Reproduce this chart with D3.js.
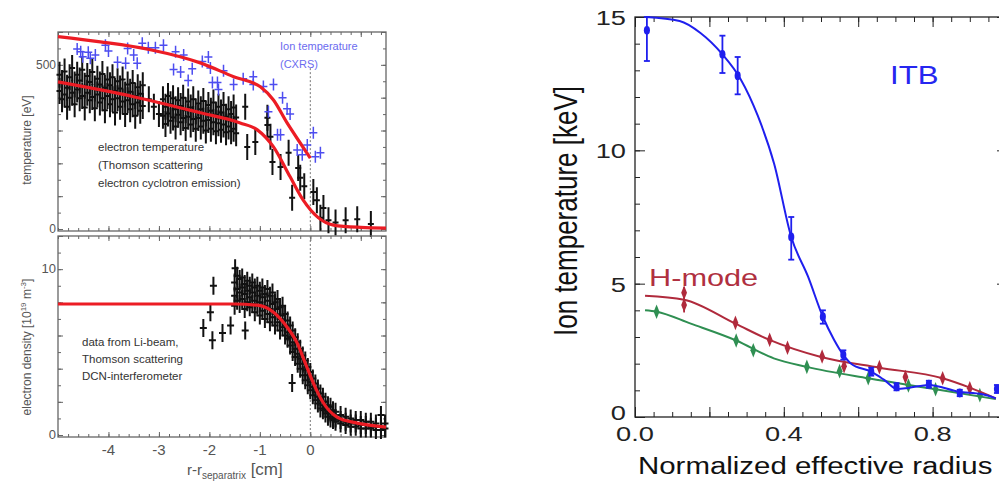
<!DOCTYPE html>
<html>
<head>
<meta charset="utf-8">
<script src="https://cdn.jsdelivr.net/npm/d3@7"></script>
<style>
body{margin:0;background:#fff;}
svg{display:block;font-family:"Liberation Sans",Arial,sans-serif;}
</style>
</head>
<body>
<svg id="chart" width="999" height="481"></svg>
<script>
// ---------- left panels: edge profiles vs r - r_separatrix [cm] ----------
// ion temperature (CXRS), [x cm, T eV]
var tiData = [[-4.62,548],[-4.55,540],[-4.51,525],[-4.40,538],[-4.36,520],[-4.26,530],[-4.06,560],[-4.00,542],
  [-3.82,508],[-3.66,505],[-3.62,550],[-3.50,530],[-3.43,505],[-3.33,566],[-3.21,552],[-3.07,552],[-2.91,560],
  [-2.71,486],[-2.67,540],[-2.57,478],[-2.51,530],[-2.42,452],[-2.34,488],[-2.14,510],[-2.02,524],[-1.98,490],
  [-1.94,446],[-1.84,446],[-1.82,425],[-1.72,482],[-1.52,440],[-1.33,458],[-1.13,464],[-1.13,440],[-0.93,434],
  [-0.83,357],[-0.73,440],[-0.65,287],[-0.59,287],[-0.55,400],[-0.46,366],[-0.40,350],[-0.26,241],[-0.16,226],
  [-0.06,256],[0.06,293],[0.10,220],[0.20,232]];
// electron temperature (Thomson / ECE), rows [x, T values...]
var teRows = [[-4.97,470,420],[-4.92,445,395],[-4.87,480,410],[-4.82,430,372],[-4.77,462,400],[-4.72,490,415],
  [-4.67,440,380],[-4.62,470,425],[-4.57,452,398],[-4.52,485,405],[-4.47,436,370],[-4.42,466,415],[-4.37,448,392],
  [-4.32,478,402],[-4.27,428,368],[-4.22,458,410],[-4.17,440,385],[-4.12,472,398],[-4.07,430,362],[-4.02,455,405],
  [-3.97,438,380],[-3.92,462,395],[-3.87,420,355],[-3.82,450,398],[-3.77,428,372],[-3.72,455,388],[-3.67,410,350],
  [-3.62,440,392],[-3.57,418,365],[-3.52,445,380],[-3.47,405,345],[-3.42,432,385],[-3.37,412,360],[-3.32,438,375],
  [-3.20,395],[-3.10,372],[-3.00,350],
  [-2.92,395,345],[-2.87,372,320],[-2.82,405,352],[-2.77,380,330],[-2.72,398,340],[-2.67,365,312],[-2.62,392,348],
  [-2.57,375,325],[-2.52,400,338],[-2.47,362,308],[-2.42,388,342],[-2.37,370,318],[-2.32,395,335],[-2.27,358,305],
  [-2.22,382,338],[-2.17,365,312],[-2.12,390,330],[-2.07,352,300],[-2.02,378,332],[-1.97,360,305],[-1.92,385,325],
  [-1.87,348,298],[-1.82,372,322],[-1.77,355,302],[-1.72,378,318],[-1.67,342,295],[-1.62,365,312],[-1.57,350,298],
  [-1.52,370,305],[-1.47,340,292],
  [-1.29,372],[-1.25,250],[-1.09,265],[-0.85,339,317],[-0.79,281],[-0.75,204],[-0.59,189],[-0.43,232],[-0.36,95],
  [-0.24,186],[-0.20,156],[-0.12,130],[0.06,113],[0.13,88],[0.20,34],[0.26,64],[0.36,27],[0.50,20],[0.70,27],
  [0.93,30],[1.20,15]];
// electron density, rows [x, n values...] (10^19 m^-3)
var neRows = [[-2.12,6.45],[-1.98,7.4],[-1.94,5.72],[-1.92,9.0],[-1.74,6.15],[-1.58,6.6],[-1.49,10.06],[-1.29,6.3],[-0.36,3.13],
  [-1.50,9.2,8.4,7.8],[-1.45,8.8,9.6,8.1],[-1.40,9.4,8.6,7.9],[-1.35,8.9,8.2,9.5],[-1.30,9.1,8.5,7.6],
  [-1.25,8.7,9.3,8.0],[-1.20,9.0,8.3,7.7],[-1.15,8.6,9.2,7.9],[-1.10,8.9,8.1,7.4],[-1.05,8.4,9.0,7.8],
  [-1.00,8.7,8.0,7.2],[-0.95,8.3,8.9,7.5],[-0.90,8.5,7.8,7.0],[-0.85,8.1,8.8,7.3],[-0.80,8.4,7.6,6.8],
  [-0.75,7.9,8.6,7.1],[-0.70,8.0,7.3,6.6],[-0.65,7.6,8.2,6.8],[-0.60,7.7,7.0,6.3],[-0.55,7.2,7.8,6.5],
  [-0.50,7.3,6.6,6.0],[-0.45,6.9,6.2,5.8],[-0.40,6.6,5.9,5.4],[-0.35,6.3,5.6,5.0],[-0.30,5.9,5.2,4.7],
  [-0.25,5.6,4.9,4.3],[-0.20,5.2,4.6,4.0],[-0.15,4.8,4.3,3.6],[-0.10,4.5,3.9,3.3],[-0.05,4.1,3.6,3.0],
  [0.00,3.8,3.2,2.7],[0.05,3.4,2.9,2.4],[0.10,3.1,2.6,2.1],[0.15,2.8,2.3,1.9],[0.20,2.5,2.1,1.6],
  [0.25,2.3,1.8,1.5],[0.30,2.0,1.6,1.3],[0.35,1.8,1.4,1.1],[0.40,1.7,1.3,1.0],[0.45,1.5,1.1,0.9],
  [0.50,1.4,1.0,0.8],[0.60,1.2,0.9,0.7],[0.70,1.1,0.8,0.6],[0.80,1.0,0.7,0.5],[0.90,0.9,0.7,0.5],
  [1.00,0.9,0.6,0.4],[1.10,0.8,0.6,0.4],[1.20,0.8,0.5,0.4],[1.30,0.7,0.5,0.3],[1.40,1.2,0.5,0.3],[1.48,0.7,0.4]];
// fitted profiles (red)
var tiFitX = [-5, -4.16, -3.17, -2.18, -1.52, -0.99, -0.73, -0.46, -0.2, 0];
var tiFitY = [586, 570, 546, 506, 464, 433, 393, 323, 262, 216];
var teFitX = [-5, -3.5, -2.18, -1.39, -1.05, -0.73, -0.4, -0.14, 0.14, 0.46, 1.0, 1.5];
var teFitY = [448, 403, 354, 323, 302, 250, 159, 88, 37, 12, 5, 3];
var neFitX = [-5, -1.5, -1.05, -0.73, -0.46, -0.26, -0.1, 0.06, 0.26, 0.53, 0.93, 1.5];
var neFitY = [7.9, 7.9, 7.83, 7.4, 6.5, 5.54, 4.34, 3.13, 1.93, 1.08, 0.72, 0.48];
var leftXTicks = [-4, -3, -2, -1, 0];

// ---------- right panel: ion temperature vs normalized radius ----------
var itbX  = [0.032, 0.235, 0.276, 0.42, 0.505, 0.56, 0.635, 0.703, 0.79, 0.873, 0.973];
var itbY  = [14.5, 13.6, 12.8, 6.75, 3.76, 2.33, 1.7, 1.13, 1.23, 0.9, 1.05];
var itbLo = [13.35, 12.9, 12.1, 5.9, 3.5, 2.15, 1.55, 1.0, 1.1, 0.78, 0.9];
var itbHi = [15.0, 14.3, 13.5, 7.5, 4.0, 2.5, 1.85, 1.27, 1.36, 1.02, 1.2];
var itbFitX = [0.03, 0.12, 0.176, 0.235, 0.284, 0.33, 0.374, 0.42, 0.465, 0.505, 0.535, 0.56, 0.581, 0.635, 0.67, 0.705, 0.735, 0.79, 0.87, 0.932, 0.97];
var itbFitY = [15.0, 14.85, 14.4, 13.6, 12.67, 11.3, 9.5, 6.75, 5.27, 3.76, 2.9, 2.33, 2.0, 1.7, 1.39, 1.05, 1.09, 1.2, 0.95, 0.86, 0.7];
var hmX   = [0.132, 0.132, 0.27, 0.362, 0.41, 0.503, 0.562, 0.657, 0.727, 0.827, 0.9];
var hmY   = [4.66, 4.2, 3.53, 2.9, 2.6, 2.27, 1.9, 1.87, 1.5, 1.45, 1.08];
var hmErr = [0.22, 0.28, 0.15, 0.15, 0.14, 0.14, 0.14, 0.14, 0.14, 0.14, 0.12];
var hmFitX = [0.027, 0.132, 0.27, 0.36, 0.5, 0.657, 0.827, 0.9, 0.97];
var hmFitY = [4.55, 4.4, 3.5, 2.9, 2.25, 1.85, 1.45, 1.1, 0.7];
var lmX   = [0.058, 0.272, 0.318, 0.462, 0.55, 0.627, 0.735, 0.808, 0.927];
var lmY   = [3.95, 2.87, 2.5, 1.88, 1.72, 1.45, 1.18, 1.04, 0.82];
var lmErr = [0.15, 0.14, 0.13, 0.12, 0.12, 0.12, 0.12, 0.12, 0.12];
var lmFitX = [0.027, 0.058, 0.15, 0.272, 0.373, 0.462, 0.627, 0.808, 0.97];
var lmFitY = [4.0, 3.95, 3.5, 2.87, 2.2, 1.88, 1.45, 1.04, 0.67];

var svg = d3.select('#chart');
var fitLine = function(x, y){
    return d3.line().curve(d3.curveMonotoneX).x(function(d){ return x(d[0]); }).y(function(d){ return y(d[1]); });
};
var zip = function(a, b){ return a.map(function(v, i){ return [v, b[i]]; }); };
var flat = function(rows){
    var out = [];
    rows.forEach(function(r){ for (var i = 1; i < r.length; i++) out.push([r[0], r[i]]); });
    return out;
};

// draws "+" error-bar markers
function crosses(g, pts, x, y, hx, hy, color, w){
    g.append('g').selectAll('path').data(pts).enter().append('path')
        .attr('d', function(d){
            var px = x(d[0]), py = y(d[1]);
            return 'M' + (px - hx) + ',' + py + 'H' + (px + hx) + 'M' + px + ',' + (py - hy) + 'V' + (py + hy);
        })
        .attr('stroke', color).attr('stroke-width', w).attr('fill', 'none');
}

// frame + inward ticks on all four sides
function frame(g, x, y, xMajor, xMinor, yMajor, yMinor, col){
    var x0 = x.range()[0], x1 = x.range()[1], y0 = y.range()[0], y1 = y.range()[1];
    [[xMajor, yMajor], [xMinor, yMinor]].forEach(function(set){
        var xs = set[0], ys = set[1];
        [
            [d3.axisBottom(x), 'translate(0,' + y0 + ')', xs],
            [d3.axisTop(x), 'translate(0,' + y1 + ')', xs],
            [d3.axisLeft(y), 'translate(' + x0 + ',0)', ys],
            [d3.axisRight(y), 'translate(' + x1 + ',0)', ys]
        ].forEach(function(a){
            var ax = a[0].tickValues(a[2][0]).tickSize(-a[2][1]).tickSizeOuter(0).tickFormat('');
            var gm = g.append('g').attr('transform', a[1]).call(ax);
            gm.select('.domain').remove();
            gm.selectAll('line').attr('stroke', col);
        });
    });
    g.append('rect').attr('x', x0).attr('y', y1).attr('width', x1 - x0).attr('height', y0 - y1)
        .attr('fill', 'none').attr('stroke', col).attr('stroke-width', 1.3);
}
var range = function(a, b, s){ return d3.range(a, b + s / 2, s).map(function(v){ return +v.toFixed(3); }); };

// ================= left: temperature =================
var xL = d3.scaleLinear().domain([-5, 1.5]).range([58, 386]);
var yT = d3.scaleLinear().domain([-6, 600]).range([231, 32]);
var yN = d3.scaleLinear().domain([-0.12, 12]).range([437, 236]);

var gT = svg.append('g');
frame(gT, xL, yT, [range(-4, 1, 1), 5], [range(-5, 1.5, 0.2), 3], [range(0, 600, 100), 5], [range(0, 600, 50), 3], '#666');
gT.append('line').attr('x1', xL(0)).attr('x2', xL(0)).attr('y1', yT(490)).attr('y2', yT(-6))
    .attr('stroke', '#777').attr('stroke-dasharray', '2,2');
crosses(gT, flat(teRows), xL, yT, 3, 13, '#111', 2);
crosses(gT, tiData, xL, yT, 4, 6, '#4d4df0', 1.5);
gT.append('path').datum(zip(tiFitX, tiFitY)).attr('d', fitLine(xL, yT))
    .attr('fill', 'none').attr('stroke', '#ec1c24').attr('stroke-width', 3.2);
gT.append('path').datum(zip(teFitX, teFitY)).attr('d', fitLine(xL, yT))
    .attr('fill', 'none').attr('stroke', '#ec1c24').attr('stroke-width', 3.2);
[[0, '0'], [500, '500']].forEach(function(t){
    gT.append('text').attr('x', 56).attr('y', yT(t[0]) + 4).attr('text-anchor', 'end')
        .attr('font-size', 12).attr('fill', '#555').text(t[1]);
});
gT.append('text').attr('transform', 'translate(31,140) rotate(-90)').attr('text-anchor', 'middle')
    .attr('font-size', 12).attr('fill', '#555').text('temperature [eV]');
var ti = gT.append('text').attr('font-size', 11).attr('fill', '#6b6bef');
ti.append('tspan').attr('x', 280).attr('y', 50).text('Ion temperature');
ti.append('tspan').attr('x', 280).attr('y', 68).text('(CXRS)');
var te = gT.append('text').attr('font-size', 11.5).attr('fill', '#333');
['electron temperature', '(Thomson scattering', 'electron cyclotron emission)'].forEach(function(s, i){
    te.append('tspan').attr('x', 98).attr('y', 151 + i * 18).text(s);
});

// ================= left: density =================
var gN = svg.append('g');
frame(gN, xL, yN, [range(-4, 1, 1), 5], [range(-5, 1.5, 0.2), 3], [range(0, 12, 2), 5], [range(0, 12, 1), 3], '#666');
gN.append('line').attr('x1', xL(0)).attr('x2', xL(0)).attr('y1', yN(12)).attr('y2', yN(-0.12))
    .attr('stroke', '#777').attr('stroke-dasharray', '2,2');
crosses(gN, flat(neRows), xL, yN, 3.5, 9, '#111', 2);
gN.append('path').datum(zip(neFitX, neFitY)).attr('d', fitLine(xL, yN))
    .attr('fill', 'none').attr('stroke', '#ec1c24').attr('stroke-width', 3.2);
[[0, '0'], [10, '10']].forEach(function(t){
    gN.append('text').attr('x', 56).attr('y', yN(t[0]) + 4).attr('text-anchor', 'end')
        .attr('font-size', 13).attr('fill', '#555').text(t[1]);
});
leftXTicks.forEach(function(v){
    gN.append('text').attr('x', xL(v)).attr('y', 455).attr('text-anchor', 'middle')
        .attr('font-size', 15).attr('fill', '#555').text(v === 0 ? '0' : '-' + Math.abs(v));
});
var xt = gN.append('text').attr('x', 187).attr('y', 475).attr('font-size', 15).attr('fill', '#555');
xt.append('tspan').text('r-r');
xt.append('tspan').attr('font-size', 10).attr('dy', 4).text('separatrix');
xt.append('tspan').attr('font-size', 17).attr('dy', -4).text(' [cm]');
var yl = gN.append('text').attr('transform', 'translate(31,347) rotate(-90)').attr('text-anchor', 'middle')
    .attr('font-size', 12).attr('fill', '#555');
yl.append('tspan').text('electron density [10');
yl.append('tspan').attr('font-size', 8).attr('dy', -5).text('19');
yl.append('tspan').attr('dy', 5).text(' m');
yl.append('tspan').attr('font-size', 8).attr('dy', -5).text('-3');
yl.append('tspan').attr('dy', 5).text(']');
var nd = gN.append('text').attr('font-size', 11.5).attr('fill', '#333');
['data from Li-beam,', 'Thomson scattering', 'DCN-interferometer'].forEach(function(s, i){
    nd.append('tspan').attr('x', 82).attr('y', 346 + i * 17).text(s);
});

// ================= right: ion temperature =================
var xR = d3.scaleLinear().domain([0, 1]).range([635, 1007]);
var yR = d3.scaleLinear().domain([0, 15]).range([417, 17]);
var gR = svg.append('g');
frame(gR, xR, yR, [range(0, 1, 0.2), 10], [range(0, 1, 0.05), 5], [range(0, 15, 5), 10], [range(0, 15, 1), 5], '#222');
var sx = 1.36;
[0, 5, 10, 15].forEach(function(v){
    gR.append('text').attr('transform', 'translate(626,' + (yR(v) + (v === 0 ? 3 : 8)) + ') scale(' + sx + ',1)')
        .attr('text-anchor', 'end').attr('font-size', 20).attr('fill', '#222').text(v);
});
[0, 0.4, 0.8].forEach(function(v){
    gR.append('text').attr('transform', 'translate(' + xR(v) + ',441) scale(' + sx + ',1)')
        .attr('text-anchor', 'middle').attr('font-size', 20).attr('fill', '#222').text(v.toFixed(1));
});
gR.append('text').attr('transform', 'translate(638,474) scale(1.28,1)')
    .attr('font-size', 23).attr('fill', '#111').text('Normalized effective radius');
gR.append('text').attr('transform', 'translate(577,211) scale(1.28,1) rotate(-90)')
    .attr('text-anchor', 'middle').attr('font-size', 26).attr('fill', '#111').text('Ion temperature [keV]');
gR.append('text').attr('transform', 'translate(890,84) scale(1.2,1)')
    .attr('font-size', 26).attr('fill', '#2626f0').text('ITB');
gR.append('text').attr('transform', 'translate(649,286) scale(1.28,1)')
    .attr('font-size', 24).attr('fill', '#b0303f').text('H-mode');

function series(pX, pY, lo, hi, fX, fY, color, sym, cap){
    gR.append('path').datum(zip(fX, fY)).attr('d', fitLine(xR, yR))
        .attr('fill', 'none').attr('stroke', color).attr('stroke-width', 2);
    var g = gR.append('g').attr('stroke', color).attr('stroke-width', 1.8);
    pX.forEach(function(x, i){
        var px = xR(x);
        g.append('line').attr('x1', px).attr('x2', px).attr('y1', yR(lo[i])).attr('y2', yR(hi[i]));
        if (cap){
            g.append('line').attr('x1', px - 3).attr('x2', px + 3).attr('y1', yR(lo[i])).attr('y2', yR(lo[i]));
            g.append('line').attr('x1', px - 3).attr('x2', px + 3).attr('y1', yR(hi[i])).attr('y2', yR(hi[i]));
        }
    });
    gR.append('g').selectAll('path').data(zip(pX, pY)).enter().append('path')
        .attr('transform', function(d){ return 'translate(' + xR(d[0]) + ',' + yR(d[1]) + ') scale(0.9,1.3)'; })
        .attr('d', d3.symbol().type(sym).size(36)).attr('fill', color);
}
series(lmX, lmY, lmY.map(function(v, i){ return v - lmErr[i]; }), lmY.map(function(v, i){ return v + lmErr[i]; }),
    lmFitX, lmFitY, '#2f8f52', d3.symbolDiamond, false);
series(hmX, hmY, hmY.map(function(v, i){ return v - hmErr[i]; }), hmY.map(function(v, i){ return v + hmErr[i]; }),
    hmFitX, hmFitY, '#b02a3c', d3.symbolDiamond, false);
series(itbX, itbY, itbLo, itbHi, itbFitX, itbFitY, '#1f1fee', d3.symbolCircle, true);
</script>
</body>
</html>
